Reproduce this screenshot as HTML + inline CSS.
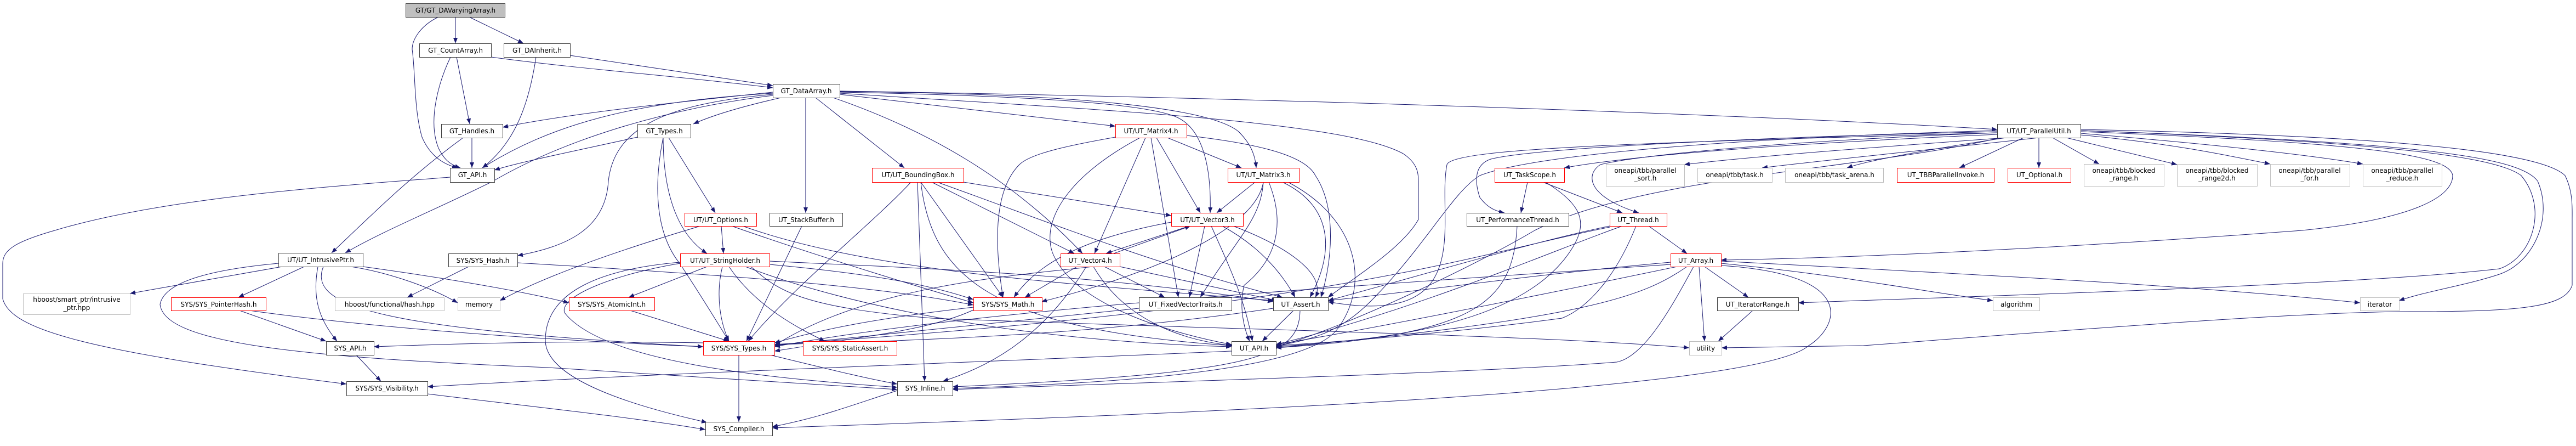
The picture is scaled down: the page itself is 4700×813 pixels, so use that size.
<!DOCTYPE html>
<html><head><meta charset="utf-8"><style>
html,body{margin:0;padding:0;background:#fff;}
svg{display:block;}
text{font-family:"DejaVu Sans","Liberation Sans",sans-serif;font-size:12px;fill:#000;}
.e{fill:none;stroke:#191970;stroke-width:1;marker-end:url(#a);}
.n{fill:#fff;stroke:#404040;stroke-width:1;}
.r{fill:#fff;stroke:#ff0000;stroke-width:1;}
.g{fill:#fff;stroke:#bfbfbf;stroke-width:1;}
</style></head><body>
<svg width="4700" height="813" viewBox="0 0 4700 813" xmlns="http://www.w3.org/2000/svg">
<defs><marker id="a" markerWidth="10" markerHeight="8" refX="10" refY="4" orient="auto" markerUnits="userSpaceOnUse"><path d="M0,0 L10,4 L0,8 z" fill="#191970"/></marker></defs>
<g>
<path class="e" d="M831,31 L831,79"/>
<path class="e" d="M856,31 L955,79"/>
<path class="e" d="M800,31 C770,45 752,70 752,90 C758,130 755,200 770,250 C785,285 810,300 835,306"/>
<path class="e" d="M833,104 L857,226"/>
<path class="e" d="M896,104 C1050,125 1250,140 1410,160"/>
<path class="e" d="M822,104 C800,150 780,220 800,270 C810,290 820,300 840,306"/>
<path class="e" d="M978,104 C965,190 940,260 880,306"/>
<path class="e" d="M1040,101 C1200,125 1330,145 1410,156"/>
<path class="e" d="M861,251 L861,306"/>
<path class="e" d="M845,251 C750,320 680,390 605,461"/>
<path class="e" d="M821,323 C600,340 300,360 100,420 C30,440 5,455 5,480 L5,545 C20,600 150,640 632,700"/>
<path class="e" d="M1410,168 C1250,185 1050,205 917,232"/>
<path class="e" d="M1410,170 C1150,185 1000,230 880,306"/>
<path class="e" d="M1425,178 C1350,195 1300,210 1265,226"/>
<path class="e" d="M1410,172 C1200,190 1120,240 1110,330 C1105,420 1030,450 944,466"/>
<path class="e" d="M1410,174 C1200,200 1020,260 900,330 C800,380 700,420 630,461"/>
<path class="e" d="M1470,178 L1470,388"/>
<path class="e" d="M1488,178 L1650,306"/>
<path class="e" d="M1520,178 C1700,240 1850,330 1975,462"/>
<path class="e" d="M1532,172 L2035,230"/>
<path class="e" d="M1532,168 C1900,175 2100,190 2150,215 C2200,240 2210,320 2208,388"/>
<path class="e" d="M1532,167 C1900,170 2200,190 2260,240 C2280,260 2290,280 2292,306"/>
<path class="e" d="M1532,166 C2400,180 3200,210 3644,236"/>
<path class="e" d="M1532,170 C2000,200 2450,220 2560,280 C2590,300 2588,320 2588,340 L2588,400 C2560,450 2480,500 2423,542"/>
<path class="e" d="M1163,250 C1050,275 950,295 902,310"/>
<path class="e" d="M1220,251 L1305,388"/>
<path class="e" d="M1210,251 C1190,350 1200,430 1240,480 C1280,540 1310,590 1330,622"/>
<path class="e" d="M1210,251 C1210,360 1240,430 1290,462"/>
<path class="e" d="M1316,412 L1320,462"/>
<path class="e" d="M1278,412 C1150,450 1000,500 912,548"/>
<path class="e" d="M1335,412 C1500,470 1700,530 1776,552"/>
<path class="e" d="M1355,412 C1600,500 2000,520 2323,548"/>
<path class="e" d="M1463,412 L1362,622"/>
<path class="e" d="M855,486 L743,542"/>
<path class="e" d="M944,479 C1300,500 1600,520 1776,556"/>
<path class="e" d="M1290,486 L1147,542"/>
<path class="e" d="M1318,486 C1305,540 1315,590 1330,622"/>
<path class="e" d="M1330,486 C1380,560 1460,600 1505,622"/>
<path class="e" d="M1241,478 C1100,490 995,530 995,620 C995,700 1200,750 1290,770"/>
<path class="e" d="M1241,480 C1120,500 1020,540 1030,570 C1100,660 1400,690 1637,706"/>
<path class="e" d="M1404,476 C1700,490 2000,500 2323,550"/>
<path class="e" d="M1404,482 C1600,500 1700,520 1776,546"/>
<path class="e" d="M1360,486 C1500,540 1800,620 2247,632"/>
<path class="e" d="M1370,486 C1420,530 1460,560 1700,580 C2200,600 2800,610 3082,634"/>
<path class="e" d="M1150,566 L1330,622"/>
<path class="e" d="M1348,647 L1348,769"/>
<path class="e" d="M1405,647 C1500,670 1580,690 1637,700"/>
<path class="e" d="M515,486 L237,535"/>
<path class="e" d="M555,486 L435,542"/>
<path class="e" d="M580,486 C570,540 580,580 615,622"/>
<path class="e" d="M640,486 C700,495 780,520 835,552"/>
<path class="e" d="M662,486 C800,505 950,530 1038,552"/>
<path class="e" d="M508,480 C400,490 300,510 292,555 C300,620 500,650 1000,670 C1300,690 1500,700 1637,710"/>
<path class="e" d="M590,486 C560,560 700,600 1283,632"/>
<path class="e" d="M437,566 L595,622"/>
<path class="e" d="M455,566 C700,600 1000,620 1283,632"/>
<path class="e" d="M650,647 L695,695"/>
<path class="e" d="M780,718 C1000,745 1150,760 1287,783"/>
<path class="e" d="M2247,640 C1800,660 1200,680 780,705"/>
<path class="e" d="M1283,625 C1000,620 800,628 682,632"/>
<path class="e" d="M2035,250 C1950,265 1880,280 1860,300 C1820,340 1810,420 1830,542"/>
<path class="e" d="M2080,251 C1950,320 1900,400 1920,460 C1960,560 2150,610 2247,628"/>
<path class="e" d="M2090,251 L1997,462"/>
<path class="e" d="M2100,251 L2150,542"/>
<path class="e" d="M2110,251 L2190,388"/>
<path class="e" d="M2130,251 L2265,306"/>
<path class="e" d="M2165,247 C2280,260 2380,280 2400,320 C2440,380 2430,480 2410,542"/>
<path class="e" d="M2290,332 L2220,388"/>
<path class="e" d="M2305,332 C2300,400 2260,430 2190,542"/>
<path class="e" d="M2305,332 C2290,420 2100,500 1900,550"/>
<path class="e" d="M2315,332 C2350,420 2320,480 2270,520 C2260,560 2270,600 2280,622"/>
<path class="e" d="M2340,332 C2440,380 2430,470 2390,542"/>
<path class="e" d="M2350,332 C2480,400 2500,520 2440,600 C2380,680 2000,700 1738,708"/>
<path class="e" d="M1680,332 L1830,542"/>
<path class="e" d="M1700,332 L1960,462"/>
<path class="e" d="M1758,332 L2137,393"/>
<path class="e" d="M1710,332 C1900,400 2100,480 2340,542"/>
<path class="e" d="M1674,332 L1687,695"/>
<path class="e" d="M1680,332 C1700,500 1800,600 2247,630"/>
<path class="e" d="M1662,332 C1600,400 1450,520 1365,622"/>
<path class="e" d="M2170,412 L2018,462"/>
<path class="e" d="M2137,405 C2000,430 1900,470 1850,542"/>
<path class="e" d="M2198,412 L2170,542"/>
<path class="e" d="M2210,412 C2240,480 2270,540 2285,622"/>
<path class="e" d="M2230,412 C2300,450 2340,500 2363,542"/>
<path class="e" d="M2250,412 C2350,450 2420,500 2400,542"/>
<path class="e" d="M2032,462 L2172,412"/>
<path class="e" d="M1965,486 L1870,542"/>
<path class="e" d="M1982,486 C1900,620 1800,670 1720,695"/>
<path class="e" d="M2015,486 L2125,542"/>
<path class="e" d="M1995,486 C2050,580 2150,620 2250,630"/>
<path class="e" d="M2043,486 C2150,510 2250,530 2330,548"/>
<path class="e" d="M2043,480 C1900,500 1600,510 1413,630"/>
<path class="e" d="M2078,562 C1800,590 1600,610 1413,630"/>
<path class="e" d="M2360,566 L2303,622"/>
<path class="e" d="M2372,566 C2370,650 2300,680 1738,705"/>
<path class="e" d="M2323,562 C2000,610 1700,620 1413,628"/>
<path class="e" d="M1776,560 C1600,580 1500,600 1413,625"/>
<path class="e" d="M1776,565 C1700,600 1600,610 1413,640"/>
<path class="e" d="M1637,712 C1550,740 1500,760 1409,778"/>
<path class="e" d="M3644,245 C3300,260 3000,280 2854,306"/>
<path class="e" d="M3660,251 C3400,270 3200,285 3073,300"/>
<path class="e" d="M3720,251 C3550,270 3300,295 3215,306"/>
<path class="e" d="M3660,251 C3500,275 3400,295 3370,306"/>
<path class="e" d="M3692,251 L3575,306"/>
<path class="e" d="M3720,251 L3720,306"/>
<path class="e" d="M3745,251 L3830,299"/>
<path class="e" d="M3770,251 L3972,300"/>
<path class="e" d="M3796,246 C3950,260 4050,280 4142,299"/>
<path class="e" d="M3796,243 C4000,260 4200,280 4311,299"/>
<path class="e" d="M3644,240 C3200,250 2800,270 2720,290 C2690,300 2690,330 2700,360 C2715,380 2730,385 2745,388"/>
<path class="e" d="M3644,242 C3300,255 3000,280 2920,300 C2890,320 2900,360 2990,388"/>
<path class="e" d="M3796,240 C4300,260 4470,280 4475,320 C4475,360 4400,400 4200,420 C3800,450 3400,470 3140,474"/>
<path class="e" d="M3796,238 C4400,260 4560,290 4600,320 C4650,380 4620,470 4560,490 C4300,520 3600,540 3281,552"/>
<path class="e" d="M3796,238 C4450,260 4600,290 4630,330 C4660,400 4620,480 4560,500 C4500,520 4430,530 4377,548"/>
<path class="e" d="M3796,236 C4500,250 4650,290 4680,320 C4695,350 4693,380 4693,400 L4693,520 C4680,560 4600,568 4400,568 C4200,568 3800,600 3400,630 L3141,634"/>
<path class="e" d="M3644,238 C3200,250 2800,280 2700,320 C2650,350 2600,450 2500,550 C2450,600 2400,620 2328,630"/>
<path class="e" d="M3644,242 C3000,260 2650,270 2640,300 C2620,400 2700,600 2423,550"/>
<path class="e" d="M3650,251 C3400,310 3000,320 2800,420 C2700,480 2450,600 2328,632"/>
<path class="e" d="M2787,332 L2775,388"/>
<path class="e" d="M2815,332 L2960,388"/>
<path class="e" d="M2820,332 C2880,370 2900,400 2870,450 C2780,600 2500,620 2328,632"/>
<path class="e" d="M2768,412 C2760,550 2700,610 2328,634"/>
<path class="e" d="M3008,412 L3078,462"/>
<path class="e" d="M2937,412 C2800,440 2600,500 2423,548"/>
<path class="e" d="M2960,412 C2850,450 2600,560 2328,628"/>
<path class="e" d="M2985,412 C2950,500 2900,560 2850,580 C2700,600 2500,620 2328,630"/>
<path class="e" d="M2937,414 C2700,460 2450,560 1413,628"/>
<path class="e" d="M3110,486 L3190,542"/>
<path class="e" d="M3100,486 L3110,622"/>
<path class="e" d="M3140,480 C3350,500 3500,530 3636,548"/>
<path class="e" d="M3140,476 C3600,500 4000,520 4306,552"/>
<path class="e" d="M3048,478 C2800,500 2600,530 2423,548"/>
<path class="e" d="M3060,486 C2800,540 2500,600 2328,628"/>
<path class="e" d="M3078,486 C3000,540 2900,580 2328,634"/>
<path class="e" d="M3090,486 C3050,560 3000,650 2950,660 C2700,680 2000,700 1738,710"/>
<path class="e" d="M3140,484 C3400,500 3350,600 3300,630 C3200,720 2000,760 1409,780"/>
<path class="e" d="M3048,482 C2500,520 1800,560 1413,632"/>
<path class="e" d="M3198,566 L3135,622"/>
</g>
<g>
<rect class="n" x="740.5" y="6.5" width="181" height="25" style="fill:#bfbfbf"/><text x="831" y="23" text-anchor="middle">GT/GT_DAVaryingArray.h</text>
<rect class="n" x="765.5" y="79.5" width="131" height="25"/><text x="831" y="96" text-anchor="middle">GT_CountArray.h</text>
<rect class="n" x="919.5" y="79.5" width="121" height="25"/><text x="980" y="96" text-anchor="middle">GT_DAInherit.h</text>
<rect class="n" x="1410.5" y="153.5" width="122" height="25"/><text x="1471" y="170" text-anchor="middle">GT_DataArray.h</text>
<rect class="n" x="805.5" y="226.5" width="112" height="25"/><text x="861" y="243" text-anchor="middle">GT_Handles.h</text>
<rect class="n" x="821.5" y="306.5" width="81" height="26"/><text x="862" y="323" text-anchor="middle">GT_API.h</text>
<rect class="n" x="1163.5" y="226.5" width="97" height="25"/><text x="1212" y="243" text-anchor="middle">GT_Types.h</text>
<rect class="r" x="1249.5" y="388.5" width="131" height="24"/><text x="1315" y="405" text-anchor="middle">UT/UT_Options.h</text>
<rect class="n" x="1404.5" y="388.5" width="133" height="24"/><text x="1471" y="405" text-anchor="middle">UT_StackBuffer.h</text>
<rect class="n" x="818.5" y="462.5" width="126" height="24"/><text x="881" y="479" text-anchor="middle">SYS/SYS_Hash.h</text>
<rect class="r" x="1241.5" y="462.5" width="163" height="24"/><text x="1323" y="479" text-anchor="middle">UT/UT_StringHolder.h</text>
<rect class="g" x="835.5" y="542.5" width="77" height="24"/><text x="874" y="559" text-anchor="middle">memory</text>
<rect class="r" x="1038.5" y="542.5" width="156" height="24"/><text x="1116" y="559" text-anchor="middle">SYS/SYS_AtomicInt.h</text>
<rect class="r" x="1283.5" y="622.5" width="130" height="25"/><text x="1348" y="639" text-anchor="middle">SYS/SYS_Types.h</text>
<rect class="r" x="1465.5" y="622.5" width="171" height="25"/><text x="1551" y="639" text-anchor="middle">SYS/SYS_StaticAssert.h</text>
<rect class="n" x="1287.5" y="769.5" width="122" height="25"/><text x="1348" y="786" text-anchor="middle">SYS_Compiler.h</text>
<rect class="n" x="508.5" y="461.5" width="154" height="25"/><text x="585" y="478" text-anchor="middle">UT/UT_IntrusivePtr.h</text>
<rect class="g" x="42.5" y="535.5" width="195" height="38"/><text x="140" y="550" text-anchor="middle">hboost/smart_ptr/intrusive</text><text x="140" y="565" text-anchor="middle">_ptr.hpp</text>
<rect class="r" x="312.5" y="542.5" width="173" height="24"/><text x="399" y="559" text-anchor="middle">SYS/SYS_PointerHash.h</text>
<rect class="g" x="611.5" y="542.5" width="199" height="24"/><text x="711" y="559" text-anchor="middle">hboost/functional/hash.hpp</text>
<rect class="n" x="595.5" y="622.5" width="87" height="25"/><text x="639" y="639" text-anchor="middle">SYS_API.h</text>
<rect class="n" x="632.5" y="695.5" width="148" height="26"/><text x="706" y="712" text-anchor="middle">SYS/SYS_Visibility.h</text>
<rect class="r" x="2035.5" y="226.5" width="130" height="25"/><text x="2100" y="243" text-anchor="middle">UT/UT_Matrix4.h</text>
<rect class="r" x="1591.5" y="306.5" width="167" height="26"/><text x="1675" y="323" text-anchor="middle">UT/UT_BoundingBox.h</text>
<rect class="r" x="2240.5" y="306.5" width="130" height="26"/><text x="2305" y="323" text-anchor="middle">UT/UT_Matrix3.h</text>
<rect class="r" x="2137.5" y="388.5" width="131" height="24"/><text x="2203" y="405" text-anchor="middle">UT/UT_Vector3.h</text>
<rect class="r" x="1935.5" y="462.5" width="108" height="24"/><text x="1989" y="479" text-anchor="middle">UT_Vector4.h</text>
<rect class="r" x="1776.5" y="542.5" width="125" height="24"/><text x="1839" y="559" text-anchor="middle">SYS/SYS_Math.h</text>
<rect class="n" x="2078.5" y="542.5" width="169" height="24"/><text x="2163" y="559" text-anchor="middle">UT_FixedVectorTraits.h</text>
<rect class="n" x="2323.5" y="542.5" width="100" height="24"/><text x="2373" y="559" text-anchor="middle">UT_Assert.h</text>
<rect class="n" x="2247.5" y="622.5" width="81" height="25"/><text x="2288" y="639" text-anchor="middle">UT_API.h</text>
<rect class="n" x="1637.5" y="695.5" width="101" height="26"/><text x="1688" y="712" text-anchor="middle">SYS_Inline.h</text>
<rect class="n" x="3644.5" y="226.5" width="152" height="25"/><text x="3720" y="243" text-anchor="middle">UT/UT_ParallelUtil.h</text>
<rect class="r" x="2727.5" y="306.5" width="127" height="26"/><text x="2791" y="323" text-anchor="middle">UT_TaskScope.h</text>
<rect class="g" x="2930.5" y="299.5" width="143" height="40"/><text x="3002" y="315" text-anchor="middle">oneapi/tbb/parallel</text><text x="3002" y="329" text-anchor="middle">_sort.h</text>
<rect class="g" x="3097.5" y="306.5" width="136" height="26"/><text x="3165" y="323" text-anchor="middle">oneapi/tbb/task.h</text>
<rect class="g" x="3257.5" y="306.5" width="179" height="26"/><text x="3347" y="323" text-anchor="middle">oneapi/tbb/task_arena.h</text>
<rect class="r" x="3461.5" y="306.5" width="177" height="26"/><text x="3550" y="323" text-anchor="middle">UT_TBBParallelInvoke.h</text>
<rect class="r" x="3663.5" y="306.5" width="115" height="26"/><text x="3721" y="323" text-anchor="middle">UT_Optional.h</text>
<rect class="g" x="3802.5" y="299.5" width="146" height="40"/><text x="3875" y="315" text-anchor="middle">oneapi/tbb/blocked</text><text x="3875" y="329" text-anchor="middle">_range.h</text>
<rect class="g" x="3972.5" y="299.5" width="146" height="40"/><text x="4045" y="315" text-anchor="middle">oneapi/tbb/blocked</text><text x="4045" y="329" text-anchor="middle">_range2d.h</text>
<rect class="g" x="4142.5" y="299.5" width="145" height="40"/><text x="4214" y="315" text-anchor="middle">oneapi/tbb/parallel</text><text x="4214" y="329" text-anchor="middle">_for.h</text>
<rect class="g" x="4311.5" y="299.5" width="144" height="40"/><text x="4383" y="315" text-anchor="middle">oneapi/tbb/parallel</text><text x="4383" y="329" text-anchor="middle">_reduce.h</text>
<rect class="n" x="2676.5" y="388.5" width="186" height="24"/><text x="2769" y="405" text-anchor="middle">UT_PerformanceThread.h</text>
<rect class="r" x="2937.5" y="388.5" width="104" height="24"/><text x="2989" y="405" text-anchor="middle">UT_Thread.h</text>
<rect class="r" x="3048.5" y="462.5" width="92" height="24"/><text x="3094" y="479" text-anchor="middle">UT_Array.h</text>
<rect class="n" x="3133.5" y="542.5" width="148" height="24"/><text x="3207" y="559" text-anchor="middle">UT_IteratorRange.h</text>
<rect class="g" x="3082.5" y="622.5" width="59" height="25"/><text x="3112" y="639" text-anchor="middle">utility</text>
<rect class="g" x="3636.5" y="542.5" width="85" height="24"/><text x="3679" y="559" text-anchor="middle">algorithm</text>
<rect class="g" x="4306.5" y="542.5" width="71" height="24"/><text x="4342" y="559" text-anchor="middle">iterator</text>
</g>
</svg>
</body></html>
